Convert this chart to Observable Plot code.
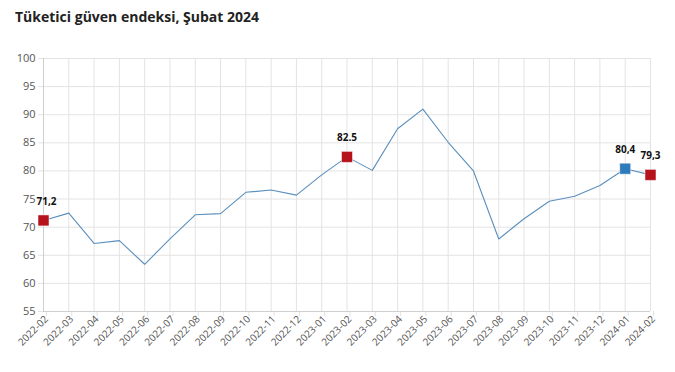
<!DOCTYPE html>
<html>
<head>
<meta charset="utf-8">
<script src="https://cdn.jsdelivr.net/npm/d3@7"></script>
<script src="https://cdn.jsdelivr.net/npm/@observablehq/plot@0.6"></script>
<style>
  html, body { margin: 0; padding: 0; background: #fff; }
  body { width: 675px; height: 372px; overflow: hidden; font-family: "Open Sans", "DejaVu Sans", sans-serif; }
  #title { height: 35px; box-sizing: border-box; padding: 7px 0 0 15px; font-size: 14px; font-weight: bold; color: #222; }
  #chart svg { display: block; }
</style>
</head>
<body>
<div id="title">Tüketici güven endeksi, Şubat 2024</div>
<div id="chart"></div>
<script>
const months = ["2022-02","2022-03","2022-04","2022-05","2022-06","2022-07","2022-08","2022-09","2022-10","2022-11","2022-12","2023-01","2023-02","2023-03","2023-04","2023-05","2023-06","2023-07","2023-08","2023-09","2023-10","2023-11","2023-12","2024-01","2024-02"];
const values = [71.2,72.5,67.1,67.6,63.4,67.9,72.2,72.4,76.2,76.6,75.7,79.3,82.5,80.1,87.5,91.0,85.1,80.0,67.9,71.5,74.6,75.5,77.4,80.4,79.3];
const yTicks = [55,60,65,70,75,80,85,90,95,100];
const highlightMonths = ["2022-02","2023-02","2024-01","2024-02"];
const highlightLabels = ["71,2","82.5","80,4","79,3"];
const highlightColors = ["#b5121b","#b5121b","#2e7bbb","#b5121b"];
const highlightDx = [3,0,0,0];

const data = months.map((m, i) => ({month: m, value: values[i]}));
const hl = highlightMonths.map((m, i) => ({
  month: m, value: values[months.indexOf(m)], label: highlightLabels[i], color: highlightColors[i], dx: highlightDx[i]
}));

const chart = Plot.plot({
  width: 675,
  height: 337,
  marginLeft: 43,
  marginRight: 25,
  marginTop: 23,
  marginBottom: 61,
  style: {fontFamily: "'Open Sans', sans-serif", fontSize: "11px", color: "#555", background: "#fff"},
  x: {type: "point", domain: months, padding: 0, round: false, label: null},
  y: {domain: [55, 100], label: null},
  marks: [
    Plot.gridY(yTicks, {stroke: "#e3e3e3", strokeOpacity: 1}),
    Plot.gridX(months, {stroke: "#e3e3e3", strokeOpacity: 1}),
    Plot.axisY(yTicks, {tickSize: 5, tickPadding: 3, stroke: "#e3e3e3", fill: "#555", fontSize: 11, label: null}),
    Plot.axisX(months, {tickSize: 5, tickPadding: 1, tickRotate: -45, stroke: "#e3e3e3", fill: "#555", fontSize: 10, dx: 3, label: null}),
    Plot.ruleY([55], {stroke: "#cfcfcf"}),
    Plot.ruleX(["2022-02"], {y1: 55, y2: 100, stroke: "#cfcfcf"}),
    Plot.line(data, {x: "month", y: "value", stroke: "#5b8fbd", strokeWidth: 1.1}),
    Plot.dot(hl, {x: "month", y: "value", symbol: "square", r: 6.2, fill: "color", stroke: "#fff", strokeWidth: 0.5}),
    ...hl.map(d => Plot.text([d], {x: "month", y: "value", text: "label", dy: -19, dx: d.dx, fontWeight: "bold", fontSize: 10, fill: "#111"}))
  ]
});
document.getElementById("chart").appendChild(chart);
</script>
</body>
</html>
